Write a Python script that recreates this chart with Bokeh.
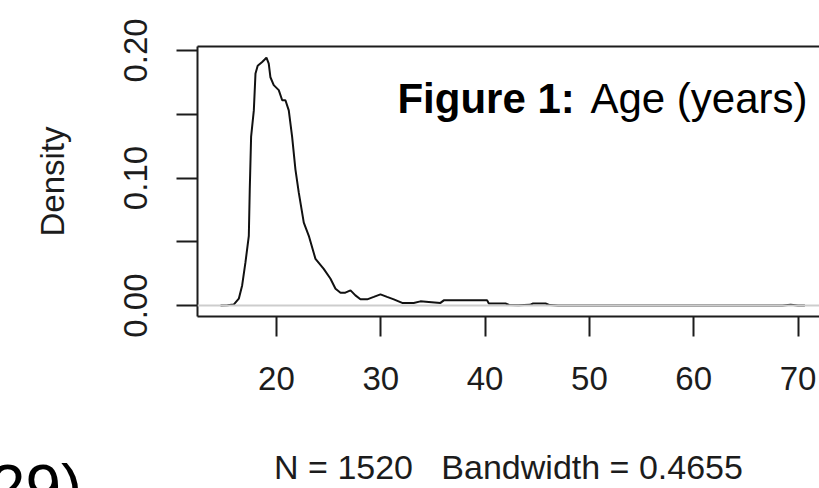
from bokeh.plotting import figure
from bokeh.models import Range1d, FixedTicker, LinearAxis, Span, Label, Title
from bokeh.embed import file_html
from bokeh.resources import INLINE

# Density estimate of age (years)
age_x = [14.64, 15.3, 15.9, 16.39, 16.71, 17.03, 17.35, 17.44, 17.57, 17.83, 17.99, 18.2, 18.63,
         19.04, 19.26, 19.42, 19.74, 20.22, 20.55, 20.86, 21.18, 21.5, 21.82, 22.14, 22.62,
         23.1, 23.74, 24.53, 25.18, 25.66, 26.14, 26.6, 27.1, 27.57, 28.05, 28.7, 29.33,
         29.97, 30.6, 31.25, 32.05, 33.16, 33.8, 34.6, 35.72, 36.04, 38.0, 40.2, 40.36,
         41.96, 42.3, 43.2, 44.3, 44.6, 45.8, 46.2, 47.0, 50.0, 55.0, 60.0, 65.0, 68.5,
         69.3, 70.0, 70.66]
density_y = [0.0, 0.0002, 0.0008, 0.0054, 0.0158, 0.034, 0.0547, 0.091, 0.1325, 0.153, 0.182,
             0.188, 0.191, 0.1943, 0.1896, 0.179, 0.1728, 0.1689, 0.161, 0.161, 0.153, 0.1325,
             0.1066, 0.0885, 0.065, 0.0547, 0.0366, 0.0288, 0.021, 0.0132, 0.0101, 0.0101,
             0.0119, 0.008, 0.0049, 0.0049, 0.0068, 0.0088, 0.0068, 0.0049, 0.0021, 0.0021,
             0.0033, 0.0029, 0.0021, 0.0041, 0.0041, 0.0041, 0.0016, 0.0016, 0.0005, 0.0002,
             0.0006, 0.0016, 0.0016, 0.0004, 0.0001, 0.0, 0.0, 0.0, 0.0, 0.0, 0.0006, 0.0001, 0.0]

x_ticks = [20, 30, 40, 50, 60, 70]
y_ticks = [0.0, 0.05, 0.10, 0.15, 0.20]
y_tick_labels = {0.0: "0.00", 0.05: "", 0.10: "0.10", 0.15: "", 0.20: "0.20"}
y_label = "Density"
x_label = "N = 1520\u00a0\u00a0 Bandwidth = 0.4655"
title_bold = "Figure 1:"
title_rest = "Age (years)"
corner_text = "(29)"

FONT = "Liberation Sans"
INK = "#1c1c1c"

p = figure(width=819, height=488, output_backend="svg", toolbar_location=None,
           x_range=Range1d(12.43, 72.06), y_range=Range1d(-0.00856, 0.2031),
           min_border_left=197, min_border_right=0, min_border_top=46, min_border_bottom=170,
           x_axis_location="below", y_axis_location="left")
p.outline_line_color = None
p.grid.visible = False
p.background_fill_color = "white"
p.border_fill_color = "white"

p.line(age_x, density_y, line_color="#111111", line_width=2)
p.add_layout(Span(location=0, dimension="width", line_color="#cdcdcd", line_width=2))

xa = p.xaxis[0]
xa.ticker = FixedTicker(ticks=x_ticks)
xa.minor_tick_line_color = None
xa.major_tick_out = 20
xa.major_tick_in = 0
xa.major_tick_line_width = 2
xa.major_tick_line_color = INK
xa.axis_line_width = 2
xa.axis_line_color = INK
xa.major_label_text_font = FONT
xa.major_label_text_font_size = "33px"
xa.major_label_text_color = INK
xa.major_label_standoff = 30
xa.axis_label = x_label
xa.axis_label_text_font = FONT
xa.axis_label_text_font_style = "normal"
xa.axis_label_text_font_size = "34px"
xa.axis_label_text_color = INK
xa.axis_label_standoff = 55

ya = p.yaxis[0]
ya.ticker = FixedTicker(ticks=y_ticks)
ya.major_label_overrides = y_tick_labels
ya.minor_tick_line_color = None
ya.major_tick_out = 21
ya.major_tick_in = 0
ya.major_tick_line_width = 2
ya.major_tick_line_color = INK
ya.axis_line_width = 2
ya.axis_line_color = INK
ya.major_label_text_font = FONT
ya.major_label_text_font_size = "33px"
ya.major_label_text_color = INK
ya.major_label_orientation = "vertical"
ya.major_label_standoff = 29
ya.axis_label = y_label
ya.axis_label_text_font = FONT
ya.axis_label_text_font_style = "normal"
ya.axis_label_text_font_size = "33px"
ya.axis_label_text_color = INK
ya.axis_label_standoff = 51

top = LinearAxis(ticker=FixedTicker(ticks=[]), major_tick_out=0, major_tick_in=0,
                 minor_tick_out=0, minor_tick_in=0, major_label_text_font_size="0px",
                 axis_line_width=2, axis_line_color=INK)
p.add_layout(top, "above")

p.add_layout(Label(x=31.6, y=0.1626, text=title_bold, text_font=FONT, text_font_size="42px",
                   text_font_style="bold", text_color="black", text_baseline="alphabetic"))
p.add_layout(Label(x=50.1, y=0.1626, text=title_rest, text_font=FONT, text_font_size="42px",
                   text_color="black", text_baseline="alphabetic"))

corner = Title(text=corner_text, align="left", offset=-229, vertical_align="top", standoff=-74,
               text_font=FONT, text_font_size="64px", text_font_style="normal",
               text_color="black")
p.add_layout(corner, "below")

open("out.html", "w").write(file_html(p, INLINE))
